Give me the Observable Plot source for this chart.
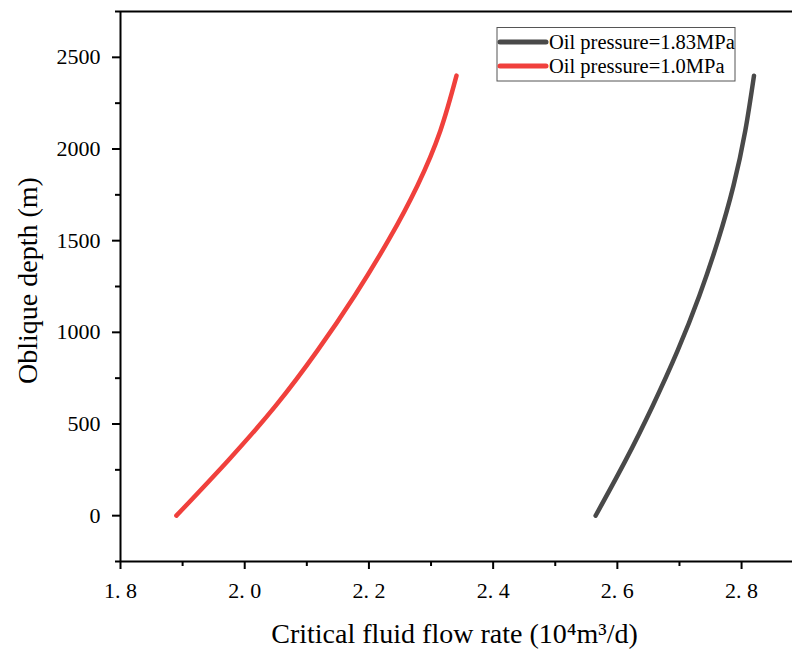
<!DOCTYPE html>
<html><head><meta charset="utf-8">
<script src="https://cdn.jsdelivr.net/npm/d3@7"></script>
<script src="https://cdn.jsdelivr.net/npm/@observablehq/plot@0.6"></script>
<style>body{margin:0;background:#fff}#chart{position:relative;width:792px;height:650px}</style>
</head><body><div id="chart"></div>
<script>
const depth = [0, 300, 600, 900, 1200, 1500, 1800, 2100, 2400];
const rateHigh = [2.565, 2.613, 2.657, 2.697, 2.732, 2.762, 2.787, 2.806, 2.820];
const rateLow = [1.890, 1.973, 2.050, 2.117, 2.177, 2.231, 2.278, 2.315, 2.341];
const seriesNames = ["Oil pressure=1.83MPa", "Oil pressure=1.0MPa"];
const seriesColors = ["#494949", "#f0403c"];
const xMajor = [1.8, 2.0, 2.2, 2.4, 2.6, 2.8];
const xMinor = [1.9, 2.1, 2.3, 2.5, 2.7];
const yMajor = [0, 500, 1000, 1500, 2000, 2500];
const yMinor = [-250, 250, 750, 1250, 1750, 2250, 2750];
const xTitle = "Critical fluid flow rate (10⁴m³/d)";
const yTitle = "Oblique depth (m)";

const rows = [];
depth.forEach((d, i) => {
  rows.push({series: seriesNames[0], depth: d, rate: rateHigh[i]});
});
depth.forEach((d, i) => {
  rows.push({series: seriesNames[1], depth: d, rate: rateLow[i]});
});

const font = "'Liberation Serif','Times New Roman',serif";
const xDomain = [1.8, 2.882];
const yDomain = [-250, 2750];

const plot = Plot.plot({
  width: 792, height: 650,
  marginLeft: 120, marginRight: 0, marginTop: 11, marginBottom: 89,
  style: {fontFamily: font, background: "#fff", color: "#000", overflow: "visible"},
  x: {domain: xDomain, label: null},
  y: {domain: yDomain, label: null},
  color: {domain: seriesNames, range: seriesColors},
  marks: [
    Plot.axisX({ticks: xMajor, tickSize: 8, tickPadding: 13, fontSize: 22, strokeWidth: 2,
      tickFormat: d => d.toFixed(1).replace(".", ". "), label: null}),
    Plot.axisX({ticks: xMinor, tickSize: 5, strokeWidth: 2, tickFormat: () => "", label: null}),
    Plot.axisY({ticks: yMajor, tickSize: 8, tickPadding: 12, fontSize: 22, strokeWidth: 2,
      tickFormat: d => String(d), label: null}),
    Plot.axisY({ticks: yMinor, tickSize: 5, strokeWidth: 2, tickFormat: () => "", label: null}),
    Plot.ruleY([yDomain[0]], {stroke: "#000", strokeWidth: 2}),
    Plot.ruleY([yDomain[1]], {stroke: "#000", strokeWidth: 2}),
    Plot.ruleX([xDomain[0]], {stroke: "#000", strokeWidth: 2}),
    Plot.line(rows, {x: "rate", y: "depth", z: "series", stroke: "series",
      strokeWidth: 4.5, strokeLinecap: "round", curve: "natural"}),
    Plot.text([yTitle], {text: d => d, frameAnchor: "left", rotate: -90, dx: -92, dy: -6,
      fontSize: 28, fill: "#000", lineAnchor: "middle", textAnchor: "middle"}),
    Plot.text([xTitle], {text: d => d, frameAnchor: "bottom", dx: -2, dy: 73,
      fontSize: 28, fill: "#000", lineAnchor: "middle", textAnchor: "middle"})
  ]
});

// Legend drawn into the svg
const svg = d3.select(plot);
const lg = svg.append("g").attr("font-family", font).attr("text-anchor", "start");
lg.append("rect").attr("x", 497).attr("y", 27.5).attr("width", 238).attr("height", 53.5)
  .attr("fill", "#fff").attr("stroke", "#555").attr("stroke-width", 1);
seriesNames.forEach((name, i) => {
  const cy = 42 + i * 24;
  lg.append("line").attr("x1", 500).attr("x2", 546).attr("y1", cy).attr("y2", cy)
    .attr("stroke", seriesColors[i]).attr("stroke-width", 5).attr("stroke-linecap", "round");
  lg.append("text").attr("x", 549).attr("y", cy + 7).attr("font-size", 20.5).attr("fill", "#000")
    .attr("text-anchor", "start").text(name);
});

document.getElementById("chart").appendChild(plot);
</script></body></html>
